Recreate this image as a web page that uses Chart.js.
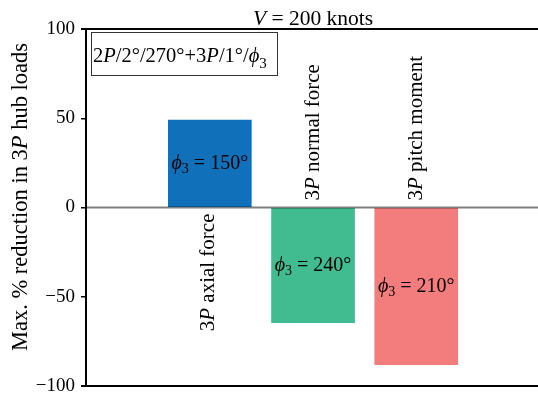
<!DOCTYPE html>
<html>
<head>
<meta charset="utf-8">
<script src="https://cdn.jsdelivr.net/npm/chart.js@4/dist/chart.umd.min.js"></script>
<style>
  html, body { margin: 0; padding: 0; background: #fff; }
  canvas { display: block; }
</style>
</head>
<body>
<canvas id="c" width="538" height="393"></canvas>
<script>
// Hub-load reduction per load component
const categories = ['3P axial force', '3P normal force', '3P pitch moment'];
const reductions = [49, -64.5, -88];
const phaseAngles = [150, 240, 210];
const yTicks = [-100, -50, 0, 50, 100];
const chartTitle = 'V = 200 knots';
const schemeLabel = '2P/2°/270°+3P/1°/ϕ3';
const yAxisTitle = 'Max. % reduction in 3P hub loads';

const FONT = '"Liberation Serif", "Times New Roman", serif';

// Split a string into runs: symbols P, V, ϕ in italics, the index after ϕ as a subscript
function segments(str) {
  const out = [];
  for (let i = 0; i < str.length; i++) {
    const ch = str[i];
    let kind = 'n';
    if (ch === 'P' || ch === 'V' || ch === 'ϕ') kind = 'i';
    else if (ch === '3' && str[i - 1] === 'ϕ') kind = 's';
    const last = out[out.length - 1];
    if (last && last.kind === kind) last.text += ch;
    else out.push({ text: ch, kind });
  }
  return out;
}
function fontFor(kind, size) {
  if (kind === 'i') return `italic ${size}px ${FONT}`;
  if (kind === 's') return `${Math.round(size * 0.72)}px ${FONT}`;
  return `${size}px ${FONT}`;
}
function drawRich(ctx, str, x, y, size, align, angle, baseline) {
  const segs = segments(str);
  ctx.save();
  ctx.translate(x, y);
  if (angle) ctx.rotate(angle);
  let w = 0;
  for (const s of segs) { ctx.font = fontFor(s.kind, size); w += ctx.measureText(s.text).width; }
  let cx = align === 'center' ? -w / 2 : align === 'right' ? -w : 0;
  ctx.textAlign = 'left';
  ctx.textBaseline = baseline || 'alphabetic';
  ctx.fillStyle = '#000';
  for (const s of segs) {
    ctx.font = fontFor(s.kind, size);
    const dy = s.kind === 's' ? size * 0.3 : 0;
    ctx.fillText(s.text, cx, dy);
    cx += ctx.measureText(s.text).width;
  }
  ctx.restore();
  return w;
}

const annotations = {
  id: 'annotations',
  afterDatasetsDraw(chart) {
    const { ctx, chartArea: a, scales: { y } } = chart;
    const y0 = y.getPixelForValue(0);

    ctx.save();
    // zero reference line
    ctx.strokeStyle = 'rgba(0,0,0,0.5)';
    ctx.lineWidth = 2;
    ctx.beginPath();
    ctx.moveTo(a.left, y0);
    ctx.lineTo(a.right, y0);
    ctx.stroke();
    // top and bottom frame lines
    ctx.strokeStyle = '#000';
    ctx.lineWidth = 2;
    ctx.beginPath();
    ctx.moveTo(a.left - 5, a.top);
    ctx.lineTo(a.right, a.top);
    ctx.moveTo(a.left - 5, a.bottom);
    ctx.lineTo(a.right, a.bottom);
    ctx.stroke();
    ctx.restore();

    // phase labels inside bars, component names across the zero line
    const meta = chart.getDatasetMeta(0);
    meta.data.forEach((bar, i) => {
      const mid = (bar.y + bar.base) / 2;
      drawRich(ctx, `ϕ3 = ${phaseAngles[i]}°`, bar.x, mid, 20, 'center', 0, 'middle');
      if (reductions[i] >= 0) {
        drawRich(ctx, categories[i], bar.x - 1, y0 + 6, 21, 'right', -Math.PI / 2, 'middle');
      } else {
        drawRich(ctx, categories[i], bar.x, y0 - 7, 21, 'left', -Math.PI / 2, 'middle');
      }
    });

    // title above the frame
    drawRich(ctx, chartTitle, (a.left + a.right) / 2 + 1, 25, 21.5, 'center');

    // scheme label box
    ctx.save();
    ctx.strokeStyle = '#333';
    ctx.lineWidth = 1;
    ctx.strokeRect(a.left + 5.5, a.top + 3.5, 186, 43);
    ctx.restore();
    drawRich(ctx, schemeLabel, a.left + 7, a.top + 33, 20.5, 'left');

    // vertical axis title
    drawRich(ctx, yAxisTitle, 21, 197, 22.5, 'center', -Math.PI / 2, 'middle');
  }
};

new Chart(document.getElementById('c'), {
  type: 'bar',
  data: {
    datasets: [{
      data: reductions.map((v, i) => ({ x: i, y: v })),
      backgroundColor: ['#1170BA', '#41BC91', '#F37C7D'],
      borderWidth: 0,
      barThickness: 83
    }]
  },
  options: {
    responsive: false,
    animation: false,
    layout: { padding: { left: 0, right: 0, top: 29, bottom: 7 } },
    plugins: { legend: { display: false }, tooltip: { enabled: false } },
    scales: {
      x: { type: 'linear', min: -1.2, max: 3.18, offset: false, display: false },
      y: {
        min: -100,
        max: 100,
        afterBuildTicks: s => { s.ticks = yTicks.map(v => ({ value: v })); },
        afterFit: s => { s.width = 86; s.paddingTop = 0; s.paddingBottom = 0; },
        ticks: {
          font: { family: FONT, size: 19 },
          color: '#000',
          padding: 6,
          callback: v => (v < 0 ? '\u2212' + Math.abs(v) : String(v))
        },
        grid: { display: true, drawOnChartArea: false, tickLength: 5, color: '#000', lineWidth: 1.5 },
        border: { display: true, color: '#000', width: 2 }
      }
    }
  },
  plugins: [annotations]
});
</script>
</body>
</html>
